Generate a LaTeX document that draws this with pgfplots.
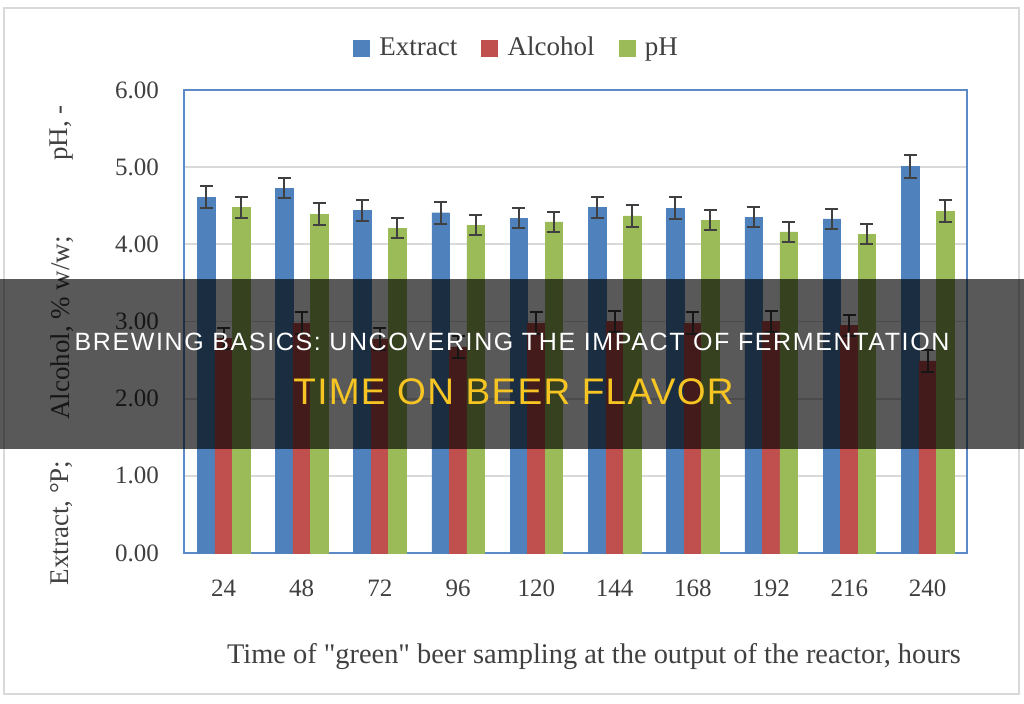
\documentclass[border=0pt]{standalone}
\usepackage{pgfplots}
\pgfplotsset{compat=1.18}
\usepackage{pgfplotstable}
\usepackage{fontspec}
\setmainfont{Liberation Serif}
\newfontfamily\qfont[Ligatures=TeXOff]{Liberation Serif}
\newfontfamily\bandA[LetterSpace=6.5]{Liberation Sans}
\newfontfamily\bandB[LetterSpace=3.5]{Liberation Sans}
\definecolor{cExtract}{HTML}{4F81BD}
\definecolor{cAlcohol}{HTML}{C0504D}
\definecolor{cPH}{HTML}{9BBB59}
\definecolor{errc}{HTML}{404040}
\definecolor{gridc}{HTML}{D9D9D9}
\definecolor{framec}{HTML}{5B8AC6}
\definecolor{bandyellow}{HTML}{F6C423}
\definecolor{textc}{HTML}{404040}

\pgfplotstableread{
x ext exterr
0 4.61 0.14
1 4.73 0.13
2 4.44 0.14
3 4.41 0.14
4 4.34 0.13
5 4.48 0.14
6 4.47 0.14
7 4.35 0.13
8 4.33 0.13
9 5.01 0.15
}\extracttable
\pgfplotstableread{
x alc alcerr
0 2.78 0.14
1 2.98 0.14
2 2.77 0.14
3 2.67 0.14
4 2.98 0.14
5 3.00 0.14
6 2.98 0.14
7 3.00 0.14
8 2.95 0.14
9 2.49 0.14
}\alcoholtable
\pgfplotstableread{
x ph pherr
0 4.48 0.14
1 4.39 0.14
2 4.21 0.13
3 4.25 0.13
4 4.29 0.13
5 4.37 0.14
6 4.31 0.13
7 4.16 0.13
8 4.13 0.13
9 4.43 0.14
}\phtable

\begin{document}
\begin{tikzpicture}
\fill[white] (0,0) rectangle (512pt,351.5pt);
\draw[gray!30, line width=0.8pt] (2pt,4.5pt) rectangle (509.5pt,347.5pt);
\begin{axis}[
  at={(92pt,75pt)}, anchor=south west,
  scale only axis, width=391.5pt, height=231.5pt,
  ybar=0pt, bar width=8.75pt,
  xmin=-0.505, xmax=9.505, ymin=0, ymax=6,
  xtick={0,...,9},
  xticklabels={24,48,72,96,120,144,168,192,216,240},
  ytick={0,1,2,3,4,5,6},
  /pgf/number format/assume math mode=true,
  ymajorgrids, grid style={gridc, line width=0.9pt},
  axis line style={framec, line width=1pt},
  major tick length=0pt,
  tick label style={font=\fontsize{12.5}{14}\selectfont, text=textc},
  yticklabel style={/pgf/number format/fixed, /pgf/number format/fixed zerofill, /pgf/number format/precision=2, xshift=-9pt},
  xticklabel style={anchor=base, yshift=-21.5pt},
  legend style={at={(0.426,1.0907)}, anchor=center, draw=none, fill=none,
    legend columns=3, font=\fontsize{13.5}{16}\selectfont, text=textc,
    /tikz/every even column/.append style={column sep=10pt}},
  legend image code/.code={\fill[#1] (0pt,-4pt) rectangle (8pt,4pt); \path[draw=none, fill=none] (11pt,0pt);},
  error bars/y dir=both, error bars/y explicit,
  error bars/error mark=-,
  error bars/error bar style={draw=errc, line width=1pt},
  error bars/error mark options={draw=errc, line width=1pt, mark size=3.25pt, rotate=90},
]
\addplot[fill=cExtract, draw=cExtract, line width=0.2pt] table[x=x, y=ext, y error=exterr] {\extracttable};
\addplot[fill=cAlcohol, draw=cAlcohol, line width=0.2pt] table[x=x, y=alc, y error=alcerr] {\alcoholtable};
\addplot[fill=cPH, draw=cPH, line width=0.2pt] table[x=x, y=ph, y error=pherr] {\phtable};
\legend{Extract, Alcohol, pH}
\end{axis}
% axis titles
\node[rotate=90, anchor=center, text=textc, font=\fontsize{13.5}{16}\selectfont] at (31pt,90pt) {Extract, °P;};
\node[rotate=90, anchor=center, text=textc, font=\fontsize{13.5}{16}\selectfont] at (31pt,187.5pt) {Alcohol, \% w/w;};
\node[rotate=90, anchor=center, text=textc, font=\fontsize{13.5}{16}\selectfont] at (31pt,285pt) {pH, -};
\node[anchor=center, text=textc, font=\qfont\fontsize{14.2}{17}\selectfont] at (297pt,23pt) {Time of "green" beer sampling at the output of the reactor, hours};
% overlay band
\fill[black, opacity=0.65] (0,127pt) rectangle (512pt,212pt);
\node[anchor=base, text=white, font=\bandA\fontsize{12.5}{15}\selectfont, inner sep=0pt] at (256pt,176pt) {BREWING BASICS: UNCOVERING THE IMPACT OF FERMENTATION};
\node[anchor=base, text=bandyellow, font=\bandB\fontsize{18.5}{22}\selectfont, inner sep=0pt] at (256.75pt,149.5pt) {TIME ON BEER FLAVOR};
\pgfresetboundingbox
\path (0,0) rectangle (512pt,351.5pt);
\end{tikzpicture}
\end{document}
